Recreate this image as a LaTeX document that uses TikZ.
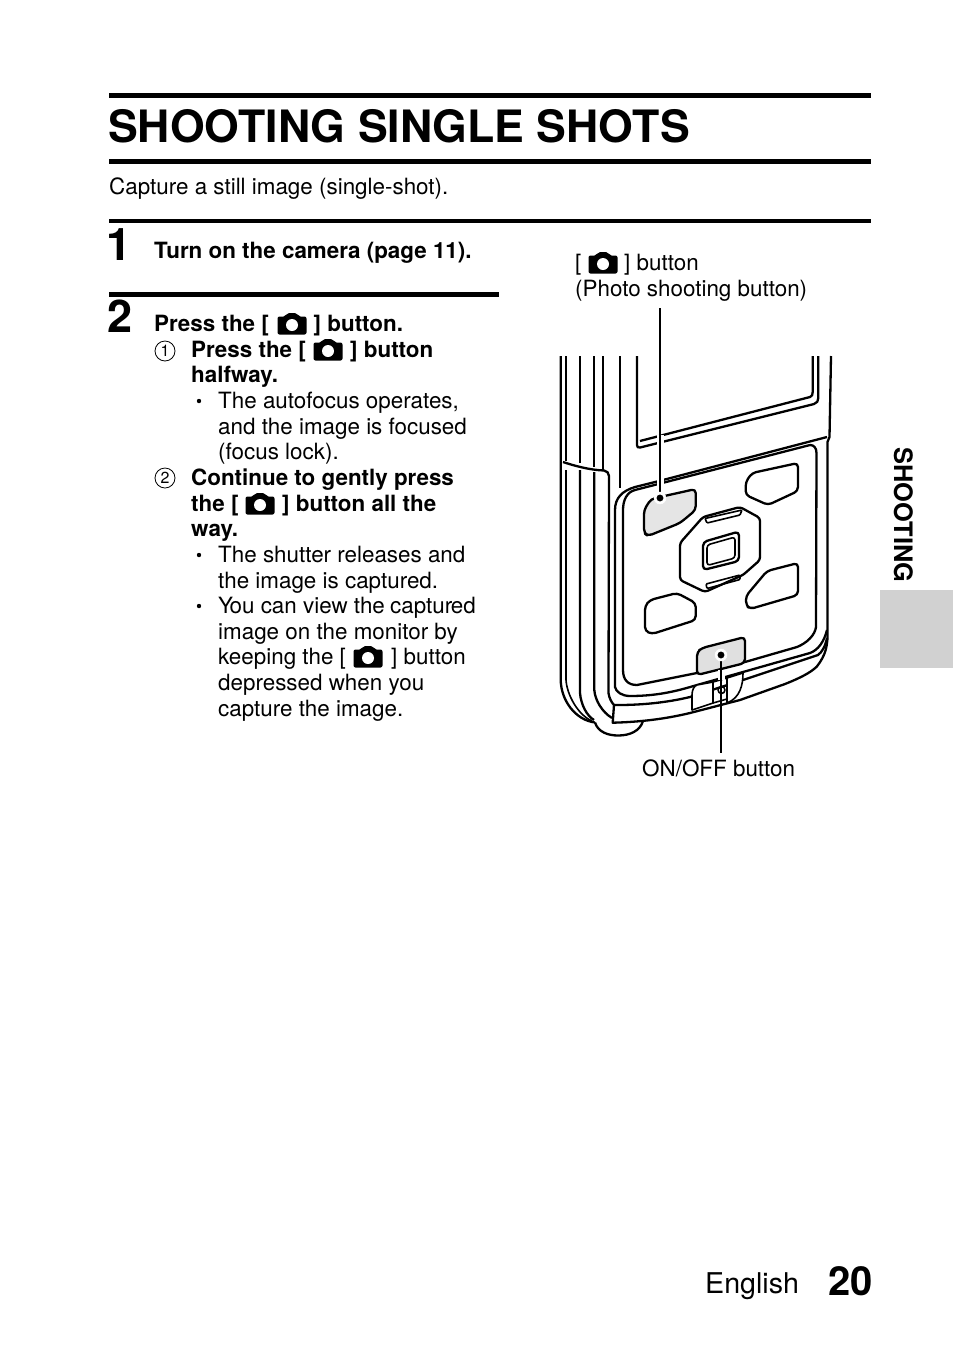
\documentclass[tikz,border=0pt]{standalone}
\usepackage{fontspec}
\setmainfont{TeX Gyre Heros}
\tikzset{
	txt/.style={anchor=base west,inner sep=0pt,font=\fontsize{22.4}{25}\selectfont},
	btxt/.style={anchor=base west,inner sep=0pt,font=\fontsize{22.4}{25}\selectfont\bfseries},
	bignum/.style={anchor=base west,inner sep=0pt,font=\fontsize{45}{50}\selectfont\bfseries},
	bullet/.style={circle,fill=black,inner sep=0pt,minimum size=4.4pt},
	circnum/.style={circle,draw,line width=.8pt,inner sep=0pt,minimum size=20pt,font=\fontsize{16}{17}\selectfont},
	body/.style={line width=2.3pt,line join=round},
	thin/.style={line width=1.6pt,line join=round},
	leader/.style={line width=2pt},
	halo/.style={line width=7pt,white},
	cam/.pic={
		\fill[black,rounded corners=2pt](-14.5,10.5)--(-14.5,-7.5)--(-6.5,-7.5)--(-5,-11)--(5,-11)--(6.5,-7.5)--(14.5,-7.5)--(14.5,10.5)--cycle;
		\fill[white](0,1) circle(6pt);
	}
}
\begin{document}
\begin{tikzpicture}[x=1pt,y=-1pt]
	\useasboundingbox (0,0) rectangle (954,1345);
	% rules and title
	\fill[black](109,93) rectangle (871,98);
	\fill[black](109,159) rectangle (871,164);
	\fill[black](109,219) rectangle (871,223);
	\fill[black](109,292) rectangle (499,297);
	\node[anchor=base west,inner sep=0pt,font=\fontsize{44.6}{48}\selectfont\bfseries] (title) at (108,142.5) {SHOOTING SINGLE SHOTS};
	\node[txt] (intro) at (109,194.5) {Capture a still image (single-shot).};
	% step 1
	\node[bignum] (stepone) at (106,260) {1};
	\node[btxt] (turnon) at (154,258) {Turn on the camera (page 11).};
	% step 2
	\node[bignum] (steptwo) at (107,332) {2};
	\node[btxt] (pressa) at (154,331.5) {Press the [};
	\pic at (292,324) {cam};
	\node[btxt] (pressb) at (313.5,331.5) {] button.};
	\node[circnum] (numa) at (165,351) {1};
	\node[btxt] (halfa) at (191,357) {Press the [};
	\pic at (328,350) {cam};
	\node[btxt] (halfb) at (350,357) {] button};
	\node[btxt] (halfc) at (191,382.5) {halfway.};
	\node[bullet] (bulleta) at (199,401) {};
	\node[txt] (focusa) at (218,408.5) {The autofocus operates,};
	\node[txt] (focusb) at (218,434) {and the image is focused};
	\node[txt] (focusc) at (218,459.5) {(focus lock).};
	\node[circnum] (numb) at (165,478) {2};
	\node[btxt] (conta) at (191,485.5) {Continue to gently press};
	\node[btxt] (contb) at (191,511) {the [};
	\pic at (260,504) {cam};
	\node[btxt] (contc) at (282,511) {] button all the};
	\node[btxt] (contd) at (191,536.5) {way.};
	\node[bullet] (bulletb) at (199,555) {};
	\node[txt] (shuta) at (218,562.5) {The shutter releases and};
	\node[txt] (shutb) at (218,588) {the image is captured.};
	\node[bullet] (bulletc) at (199,606) {};
	\node[txt] (viewa) at (218,613.5) {Y\kern-3.5pt ou can view the\kern-1pt\ captur\kern-1.5pt ed};
	\node[txt] (viewb) at (218,639) {image on the monitor by};
	\node[txt] (viewc) at (218,664.5) {keeping the [};
	\pic at (368,657) {cam};
	\node[txt] (viewd) at (391,664.5) {] button};
	\node[txt] (viewe) at (218,690) {depressed when you};
	\node[txt] (viewf) at (218,716) {capture the image.};
	% camera body
	\draw[body](560.7,356)--(560.7,680) .. controls (561,700) and (575,720) .. (595,722.5);
	\draw[body](831,356)--(829.5,437)--(827.5,442)--(827.5,630) .. controls (828,645) and (826,655) .. (816.7,666.7) .. controls (810,673) and (800,678) .. (785,684)--(740,700)--(690,713) .. controls (665,719) and (640,722) .. (612.7,722.7)--(614,705);
	\draw[body](595,722.5) .. controls (598,732) and (608,735.5) .. (618,735.5) .. controls (630,735.5) and (640,731) .. (643,721);
	\draw[thin](566,356)--(566,461);
	\draw[body](580,356)--(580,463);
	\draw[body](594.3,356)--(594.3,467);
	\draw[body](603.3,356)--(603.3,470);
	\draw[body](620,356)--(620,488);
	\draw[body](563,462) .. controls (575,466) and (590,470) .. (604,470.5) .. controls (607,471) and (609,473) .. (609,476)--(608.5,693) .. controls (609,698) and (612,703) .. (614,705);
	\draw[thin](566,470)--(566,680) .. controls (567,695) and (578,715) .. (592,721);
	\draw[body](580,470)--(580,693) .. controls (581,705) and (587,716) .. (594,720);
	\draw[body](594.3,472)--(594.3,690) .. controls (595,700) and (602,712) .. (612,718);
	% monitor
	\draw[body](637,356)--(637,445) .. controls (637,447) and (638,448) .. (640,447.5)--(814,404) .. controls (817,403) and (818.3,401) .. (818.3,398)--(818.3,356);
	\draw[body](812.7,356)--(812.7,392) .. controls (812.7,395) and (812,396) .. (810,397)--(640,441);
	% panel
	\draw[body](827,437)--(663,480)--(635,487) .. controls (622,491) and (615,498) .. (615,510)--(615,687) .. controls (616,692) and (622,696) .. (630,696) .. controls (660,696) and (680,690) .. (697,685)--(743,672)--(810,653) .. controls (818,650) and (824,642) .. (827,630);
	\draw[body](810,445) .. controls (814,445) and (816.5,448) .. (816.5,453)--(816,627) .. controls (815,635) and (807,643) .. (797,647)--(745,662)--(697,673)--(637,685) .. controls (628,685) and (623,680) .. (623,670)--(623,510) .. controls (623,500) and (627,492) .. (635,490)--(810,445);
	\draw[body](614,705)--(618,705) .. controls (640,705) and (665,703) .. (690,697)--(743,680)--(818,655) .. controls (822,652) and (825,647) .. (827,638);
	% buttons
	\draw[body,fill=black!10,rounded corners=4pt](644,533)--(644,510)--(651,499)--(695.7,489)--(695.7,510)--(680,523)--(648,536)--cycle;
	\draw[body,rounded corners=4pt](745.7,482)--(752,473)--(798,463)--(798,491)--(768,505)--(745.7,495)--cycle;
	\draw[body,rounded corners=4pt](645,631)--(645,606)--(650,600)--(677,593)--(695.7,603)--(695.7,620)--(652,634)--cycle;
	\draw[body,rounded corners=4pt](746,605)--(746,596)--(767,571)--(798,563)--(798,595)--(750,609)--cycle;
	% direction keys
	\draw[body,rounded corners=3pt](680,580)--(680,543)--(703,517)--(740,507)--(760,518)--(760,560)--(743,575)--(705,592)--cycle;
	\draw[thin,rounded corners=1pt](705,518.5)--(742,510)--(740,515)--(707,523)--cycle;
	\draw[thin,rounded corners=1pt](706,584)--(740,575)--(740,579.5)--(707,588.5)--cycle;
	\draw[body,rounded corners=4pt](703,570)--(703,542)--(739,531.5)--(739,561)--cycle;
	\draw[thin,rounded corners=3pt](707,565.5)--(707,545)--(735,537)--(735,558)--cycle;
	% power button and strap
	\draw[body,fill=black!12,rounded corners=4pt](697,675)--(697,652)--(702,648)--(745,637)--(745,663)--cycle;
	\draw[thin,fill=white](692,710)--(692,695) .. controls (692,690) and (694,686) .. (697,685)--(713,682)--(713,703)--cycle;
	\draw[thin,fill=white](727,703)--(727,678)--(743,673) .. controls (743,685) and (740,698) .. (727,703);
	\draw[thin](713,682)--(727,678);
	\draw[thin](713,703)--(727,699);
	\draw[thin](721.5,690) circle(3.5pt);
	% leaders
	\coordinate (phototop) at (660,308);
	\coordinate (photodot) at (660,498);
	\coordinate (powerdot) at (721,655);
	\coordinate (powerend) at (721,753);
	\draw[halo](660,435)--(660,445);
	\draw[halo](660,478)--(660,490);
	\draw[halo](721,670)--(721,680);
	\draw[leader] (phototop)--(photodot);
	\draw[leader] (powerdot)--(powerend);
	\filldraw[white](photodot) circle(6pt);
	\filldraw[white](powerdot) circle(6pt);
	\filldraw[black](photodot) circle(3.2pt);
	\filldraw[black](powerdot) circle(3.2pt);
	% labels of the camera
	\node[txt] (photoa) at (575,270) {[};
	\pic at (603,263) {cam};
	\node[txt] (photob) at (624,270) {] button};
	\node[txt] (photoc) at (575,296) {(Photo shooting button)};
	\node[txt] (powerlabel) at (642,776.5) {ON/OFF button};
	% side tab and page number
	\node[anchor=base west,rotate=-90,inner sep=0pt,font=\fontsize{25.4}{27}\selectfont\bfseries] (sidetab) at (894,447) {SHOOTING};
	\fill[black!18](880,590) rectangle (953,668);
	\node[anchor=base west,inner sep=0pt,font=\fontsize{28.6}{32}\selectfont] (english) at (705,1293) {English};
	\node[anchor=base west,inner sep=0pt,font=\fontsize{40}{44}\selectfont\bfseries] (pagenum) at (828,1295) {20};
\end{tikzpicture}
\end{document}
